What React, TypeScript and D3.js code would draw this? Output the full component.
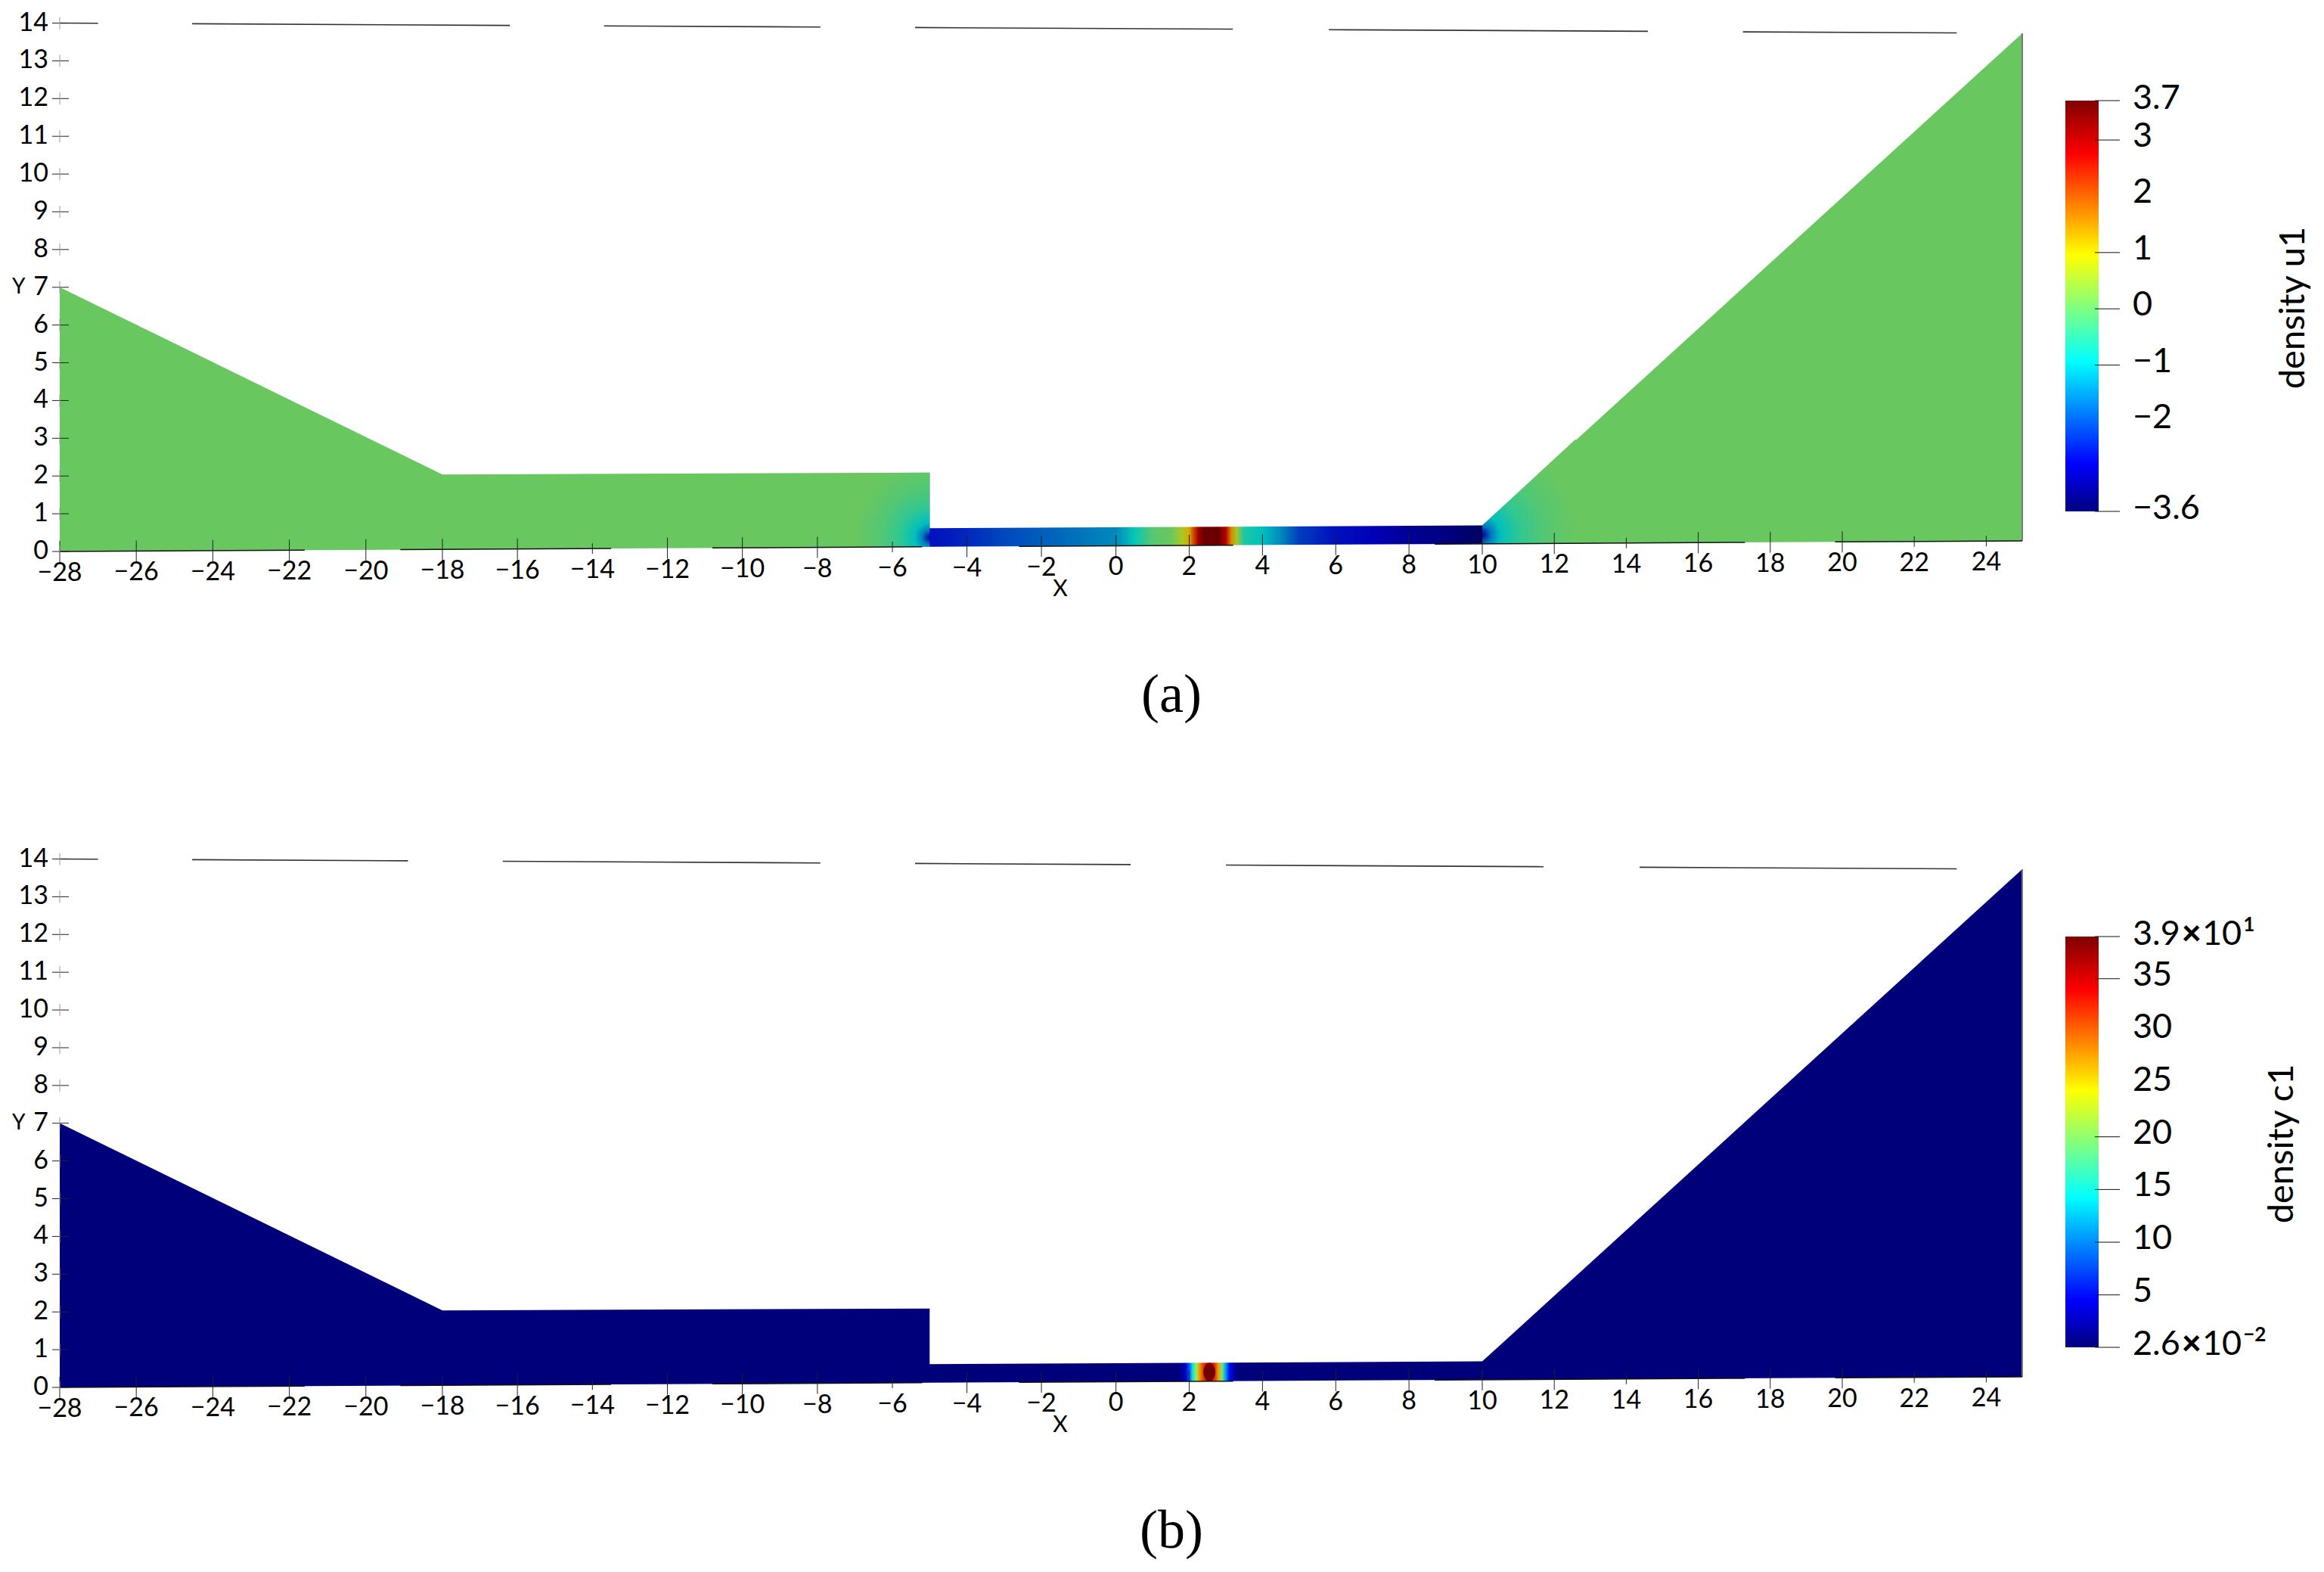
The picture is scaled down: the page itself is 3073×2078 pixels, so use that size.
import { useEffect, useRef } from 'react';
import * as d3 from 'd3';

const WIDTH = 3073;
const HEIGHT = 2078;
const FONT = 'Lato, "Open Sans", sans-serif';

const xKnots = [-28, -18, -6, 0, 10, 25];
const xKnotPx = [79, 585, 1180, 1475.6, 1960, 2674];
const xTicks = d3.range(-28, 25, 2);
const shortXTicks = [-14, -6, 14, 22, 24];
const yTicks = d3.range(0, 15);

// domain outline
const outlineX = [-28, -18, -5, -5, 10, 25, 25, -28];
const outlineY = [7, 2, 2, 0.5, 0.5, 14, 0, 0];
const baseSegments = [[-28, -21.6], [-19.1, -13.5], [-10.8, -5.2], [-2.6, 3.2], [8.7, 17.3], [19.8, 25]];

// panel a: u1 along the channel
const uX = [-28, -5, -5, -4, -3, -2, -1, 0, 0.5, 1, 1.5, 1.8, 2, 2.1, 2.25, 2.4, 2.8, 3, 3.15, 3.3, 3.5, 4, 4.5, 5, 6, 7, 8, 9, 10, 10, 25];
const uV = [0, 0, -2.6, -2.4, -2.1, -1.9, -1.7, -1.5, -0.9, -0.15, 0, 0.6, 1.2, 2, 3.2, 3.7, 3.7, 3, 1.5, 0.5, -0.7, -1, -1.5, -2.2, -2.6, -2.8, -3.1, -3.3, -3.6, 0, 0];
const uDashes = [[-28, -27], [-24.54, -16.2], [-13.69, -7.92], [-5.39, 3.19], [5.81, 14.6], [17.24, 23.18]];
const uBarTicks = [3.7, 3, 1, 0, -1, -3.6];
const uBarLabels = [3, 2, 1, 0, -1, -2];

// panel a: the wide parts turn blue around the two channel mouths
const mouthLeftX = [-7, -5, -5, -7];
const mouthLeftY = [2, 2, 0, 0];
const mouthRightX = [10, 12.6, 12.6, 10];
const mouthRightY = [0.5, 2.85, 0, 0];
const mouthValues = [-3, -1.6, -1, -0.5, -0.2, 0];
const mouthOffsets = [0, 0.1, 0.2, 0.4, 0.65, 1];

// panel b: c1 along the channel
const cX = [-28, 1.7, 1.9, 2, 2.1, 2.2, 2.3, 2.4, 2.5, 2.6, 2.7, 2.8, 2.9, 3, 3.1, 3.25, 3.4, 25];
const cV = [0.026, 0.026, 3, 8, 15, 22, 28, 32, 34, 34, 32, 27, 19, 11, 5, 1, 0.026, 0.026];
const cDashes = [[-28, -27], [-24.54, -18.9], [-16.39, -7.92], [-5.39, 0.4], [3, 11.7], [14.37, 23.18]];
const cBarTicks = [39, 35, 20, 15, 10, 5, 0.026];
const cBarLabels = [35, 30, 25, 20, 15, 10, 5];
const cPeak = { x: 2.55, y: 0.25, value: 39 };

const jetStops = [0, 0.116, 0.365, 0.495, 0.625, 0.87, 1];
const jetColors = ['#000080', '#0000ff', '#00ffff', '#80ff80', '#ffff00', '#ff0000', '#800000'];

const minus = (v: number) => String(v).replace('-', '\u2212');

const xScale = d3.scaleLinear().domain(xKnots).range(xKnotPx);
const yLeft = d3.scaleLinear().domain([0, 14]).range([729, 30.5]);
const yRight = d3.scaleLinear().domain([0, 14]).range([715, 44]);
const jet = d3.scaleLinear<string>().domain(jetStops).range(jetColors).interpolate(d3.interpolateRgb);

// y pixel of a data point, the left and right y scales differ because of the camera
const yAt = (x: number, y: number) => {
  const k = (xScale(x) - xKnotPx[0]) / (xKnotPx[5] - xKnotPx[0]);
  return d3.interpolateNumber(yLeft(y), yRight(y))(k);
};

const polygon = (xs: number[], ys: number[]) =>
  d3.line<number>()
    .x(i => xScale(xs[i]))
    .y(i => yAt(xs[i], ys[i]))
    .curve(d3.curveLinearClosed)(d3.range(xs.length));

type Sel = d3.Selection<SVGGElement, unknown, null, undefined>;

function drawPanel(g: Sel, id: string, o: {
  stationX: number[];
  stationV: number[];
  domain: [number, number];
  shade: number[];
  dashes: number[][];
  barTicks: number[];
  barLabels: number[];
  name: string;
  nameX: number;
  caption: string;
  top: [string, string];
  bottom: [string, string];
}) {
  const t = d3.scaleLinear().domain(o.domain).range([0, 1]);
  const fieldColor = (v: number) => {
    const c = d3.rgb(jet(t(v)));
    return d3.rgb(c.r * o.shade[0], c.g * o.shade[1], c.b * o.shade[2]).formatHex();
  };
  const defs = g.append('defs');

  const grad = defs.append('linearGradient')
    .attr('id', id)
    .attr('gradientUnits', 'userSpaceOnUse')
    .attr('x1', xKnotPx[0]).attr('x2', xKnotPx[5])
    .attr('y1', 0).attr('y2', 0);
  o.stationX.forEach((x, i) => {
    grad.append('stop')
      .attr('offset', (xScale(x) - xKnotPx[0]) / (xKnotPx[5] - xKnotPx[0]))
      .attr('stop-color', fieldColor(o.stationV[i]));
  });
  g.append('path').attr('d', polygon(outlineX, outlineY)).attr('fill', `url(#${id})`);

  if (id === 'field-u') {
    const mouth = (key: string, cx: number, r: number, xs: number[], ys: number[]) => {
      const radial = defs.append('radialGradient')
        .attr('id', key)
        .attr('gradientUnits', 'userSpaceOnUse')
        .attr('cx', xScale(cx)).attr('cy', yAt(cx, 0.25)).attr('r', r);
      mouthValues.forEach((v, i) => {
        radial.append('stop')
          .attr('offset', mouthOffsets[i])
          .attr('stop-color', fieldColor(v));
      });
      g.append('path').attr('d', polygon(xs, ys)).attr('fill', `url(#${key})`);
    };
    mouth('mouth-left', -5, xScale(-5) - xScale(-7), mouthLeftX, mouthLeftY);
    mouth('mouth-right', 10, xScale(12.6) - xScale(10), mouthRightX, mouthRightY);
  } else {
    g.append('ellipse')
      .attr('cx', xScale(cPeak.x)).attr('cy', yAt(cPeak.x, cPeak.y))
      .attr('rx', 8).attr('ry', 12)
      .attr('fill', fieldColor(cPeak.value));
  }

  // gray edge on the right
  g.append('line')
    .attr('x1', xScale(25)).attr('x2', xScale(25))
    .attr('y1', yAt(25, 14)).attr('y2', yAt(25, 0))
    .attr('stroke', '#777').attr('stroke-width', 2);

  // y = 0 line, only partly visible
  baseSegments.forEach(([a, b]) => {
    g.append('line')
      .attr('x1', xScale(a)).attr('x2', xScale(b))
      .attr('y1', yAt(a, 0)).attr('y2', yAt(b, 0))
      .attr('stroke', '#111').attr('stroke-width', 1.5);
  });

  // y = 14 line, only partly visible
  o.dashes.forEach(([a, b]) => {
    g.append('line')
      .attr('x1', xScale(a)).attr('x2', xScale(b))
      .attr('y1', yAt(a, 14)).attr('y2', yAt(b, 14))
      .attr('stroke', '#333').attr('stroke-width', 1.6);
  });

  // axes ticks
  xTicks.forEach(x => {
    const px = xScale(x);
    const py = yAt(x, 0);
    const len = shortXTicks.includes(x) ? 7 : 14;
    g.append('line')
      .attr('x1', px).attr('x2', px).attr('y1', py - len).attr('y2', py + len)
      .attr('stroke', '#222').attr('stroke-width', 1);
    g.append('text')
      .attr('x', px).attr('y', py + 39)
      .attr('text-anchor', 'middle')
      .attr('font-family', FONT).attr('font-size', 34)
      .text(minus(x));
  });
  yTicks.forEach(y => {
    const py = yLeft(y);
    g.append('line')
      .attr('x1', xKnotPx[0] - 10).attr('x2', xKnotPx[0] + 12).attr('y1', py).attr('y2', py)
      .attr('stroke', '#222').attr('stroke-width', 1);
    g.append('line')
      .attr('x1', xKnotPx[0]).attr('x2', xKnotPx[0]).attr('y1', py - 8).attr('y2', py + 8)
      .attr('stroke', '#999').attr('stroke-width', 1);
    g.append('text')
      .attr('x', 64).attr('y', py + 10)
      .attr('text-anchor', 'end')
      .attr('font-family', FONT).attr('font-size', 34)
      .text(y);
  });
  g.append('text')
    .attr('x', 16).attr('y', yLeft(7) + 8)
    .attr('font-family', FONT).attr('font-size', 28)
    .text('Y');
  g.append('text')
    .attr('x', xScale(-2) + 25).attr('y', 788)
    .attr('text-anchor', 'middle')
    .attr('font-family', FONT).attr('font-size', 30)
    .text('X');

  // color bar
  const barScale = d3.scaleLinear().domain(o.domain).range([676, 133]);
  const barId = `${id}-bar`;
  const barGrad = defs.append('linearGradient')
    .attr('id', barId)
    .attr('x1', 0).attr('x2', 0).attr('y1', 1).attr('y2', 0);
  jetStops.forEach((s, i) => {
    barGrad.append('stop').attr('offset', s).attr('stop-color', jetColors[i]);
  });
  g.append('rect')
    .attr('x', 2731).attr('y', 133).attr('width', 44).attr('height', 543)
    .attr('fill', `url(#${barId})`);
  o.barTicks.forEach(v => {
    g.append('line')
      .attr('x1', 2770).attr('x2', 2803)
      .attr('y1', barScale(v)).attr('y2', barScale(v))
      .attr('stroke', '#111').attr('stroke-width', 1);
  });
  const barText = (sel: d3.Selection<SVGTextElement, unknown, null, undefined>) =>
    sel.attr('x', 2820).attr('font-family', FONT).attr('font-size', 45);
  o.barLabels.forEach(v => {
    g.append('text').call(barText)
      .attr('y', barScale(v) + 9)
      .text(minus(v));
  });
  [o.top, o.bottom].forEach(([text, power], i) => {
    const v = o.domain[i === 0 ? 1 : 0];
    const el = g.append('text').call(barText).attr('y', barScale(v) + (i === 0 ? 11 : 10));
    if (!power) {
      el.text(text);
      return;
    }
    el.append('tspan').text(text);
    el.append('tspan').attr('font-weight', 900).attr('dx', 2).text('\u00d7');
    el.append('tspan').attr('dx', 1).text('10');
    el.append('tspan').attr('font-size', 26).attr('font-weight', 700).attr('dx', 2).attr('dy', -18).text(power);
  });

  g.append('text')
    .attr('transform', `translate(${o.nameX},407) rotate(-90)`)
    .attr('text-anchor', 'middle')
    .attr('font-family', FONT).attr('font-size', 47)
    .text(o.name);

  g.append('text')
    .attr('x', 1549).attr('y', 941)
    .attr('text-anchor', 'middle')
    .attr('font-family', '"Liberation Serif", serif').attr('font-size', 72)
    .text(o.caption);
}

export default function App() {
  const ref = useRef<SVGSVGElement>(null);

  useEffect(() => {
    if (!ref.current) return;
    const svg = d3.select(ref.current);
    svg.selectAll('*').remove();

    drawPanel(svg.append('g') as unknown as Sel, 'field-u', {
      stationX: uX, stationV: uV, domain: [-3.6, 3.7], shade: [0.83, 0.78, 0.74],
      dashes: uDashes, barTicks: uBarTicks, barLabels: uBarLabels,
      name: 'density u1', nameX: 3047, caption: '(a)',
      top: ['3.7', ''], bottom: ['\u22123.6', ''],
    });
    drawPanel(svg.append('g').attr('transform', 'translate(0,1105)') as unknown as Sel, 'field-c', {
      stationX: cX, stationV: cV, domain: [0.026, 39], shade: [0.9, 0.9, 0.95],
      dashes: cDashes, barTicks: cBarTicks, barLabels: cBarLabels,
      name: 'density c1', nameX: 3032, caption: '(b)',
      top: ['3.9', '1'], bottom: ['2.6', '\u22122'],
    });
  }, []);

  return (
    <svg
      ref={ref}
      width={WIDTH}
      height={HEIGHT}
      style={{ position: 'absolute', left: 0, top: 0, background: '#fff' }}
    />
  );
}
